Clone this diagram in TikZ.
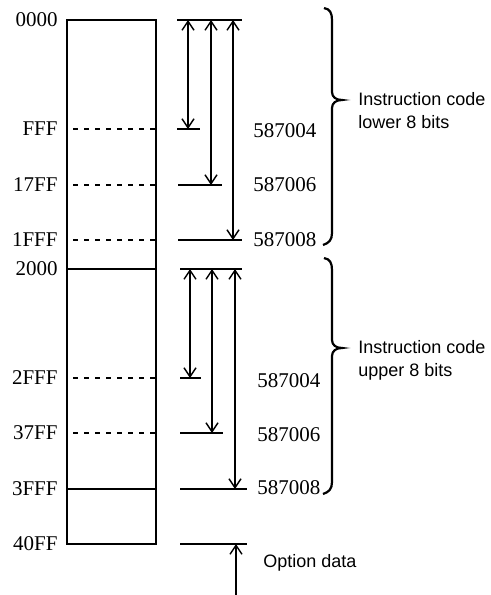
\documentclass[tikz,border=0pt]{standalone}
\usepackage{fontspec}
\setmainfont{Liberation Serif}
\setsansfont{Liberation Sans}
\usetikzlibrary{arrows.meta}

\tikzset{
  addr/.style={anchor=east, inner sep=0pt, font=\fontsize{10.5}{12}\selectfont},
  code/.style={anchor=west, inner sep=0pt, font=\fontsize{10.5}{12}\selectfont},
  note/.style={anchor=west, inner sep=0pt, align=left, font=\sffamily\fontsize{9}{11.5}\selectfont},
  barb/.tip={Straight Barb[length=4.5pt,width=6pt]},
  dimarrow/.style={line width=0.7pt, barb-barb},
  memline/.style={line width=0.8pt},
  dashline/.style={line width=0.7pt, dash pattern=on 2.5pt off 3pt},
  bracepath/.style={line width=1.1pt},
}

\begin{document}
\begin{tikzpicture}[x=0.5pt,y=-0.5pt]
    \useasboundingbox (0,0) rectangle (491,595);

    % Memory block
    \draw[memline] (67,20) rectangle (156,544);
    \draw[memline] (67,269) -- (156,269);
    \draw[memline] (67,489) -- (156,489);
    \foreach \y in {129,185,240,378,433}
      \draw[dashline] (73,\y) -- (156,\y);

    % Addresses
    \foreach \n/\y/\t in {a0/20/0000, a1/129/FFF, a2/185/17FF, a3/240/1FFF,
                          a4/269/2000, a5/378/2FFF, a6/433/37FF, a7/489/3FFF,
                          a8/544/40FF}
      \node[addr] (\n) at (58,\y) {\t};

    % Reference lines
    \draw[memline] (177,20) -- (242,20);
    \draw[memline] (180,269) -- (242,269);
    \foreach \x/\y/\e in {177/129/200, 178/185/222, 178/240/242,
                          180/378/201, 180/433/223, 180/489/247, 180/544/247}
      \draw[memline] (\x,\y) -- (\e,\y);

    % Dimension arrows
    \foreach \n/\x/\t/\b in {l1/188/20/129, l2/211/20/185, l3/233/20/240,
                             u1/190/269/378, u2/212/269/433, u3/235/269/489} {
      \coordinate (\n top) at (\x,\t);
      \coordinate (\n bot) at (\x,\b);
      \draw[dimarrow] (\n top) -- (\n bot);
    }
    \coordinate (opt top) at (236,544);
    \coordinate (opt bot) at (236,595);
    \draw[line width=0.7pt, -barb] (opt bot) -- (opt top);

    % Parameter numbers
    \foreach \n/\x/\y/\t in {p1/253/131/587004, p2/253/185/587006, p3/253/240/587008,
                             p4/257/381/587004, p5/257/435/587006, p6/257/488/587008}
      \node[code] (\n) at (\x,\y) {\t};

    % Braces
    \draw[bracepath] (324,8) .. controls (330,9) and (332,13) .. (332,20)
      -- (332,92) .. controls (332,97) and (336,100) .. (342,100)
      .. controls (336,100) and (332,103) .. (332,108)
      -- (332,233) .. controls (332,240) and (329,243) .. (323,245);
    \draw[bracepath] (324,258) .. controls (330,259) and (332,263) .. (332,270)
      -- (332,340) .. controls (332,345) and (336,348) .. (342,348)
      .. controls (336,348) and (332,351) .. (332,356)
      -- (332,482) .. controls (332,489) and (329,492) .. (323,494);

    % Notes
    \node[note] (lower) at (358,111) {Instruction code\\lower 8 bits};
    \node[note] (upper) at (358,360) {Instruction code\\upper 8 bits};
    \node[note] (option) at (263,563) {Option data};
\end{tikzpicture}
\end{document}
